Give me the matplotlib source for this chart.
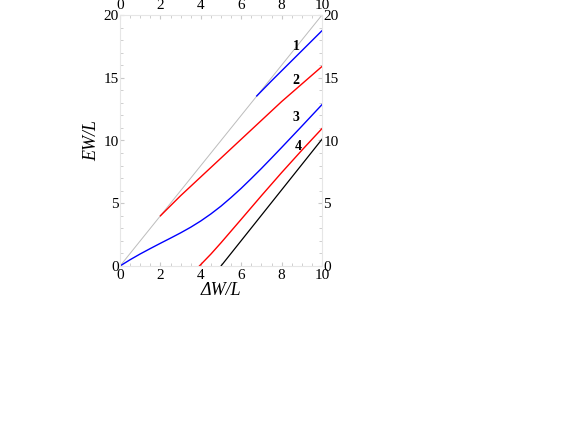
import matplotlib.pyplot as plt
from matplotlib.ticker import MultipleLocator

plt.rcParams['font.family'] = ['Liberation Serif', 'DejaVu Serif']

# curve data
diag_x = [0, 10]
diag_y = [0, 20]

c1_x = [6.77, 7.5, 8, 9, 10]
c1_y = [13.55, 14.75, 15.55, 17.15, 18.75]

c2_x = [2, 2.5, 3, 4, 5, 6, 7, 8, 9, 10]
c2_y = [4.0, 4.8, 5.6, 7.1, 8.6, 10.1, 11.6, 13.1, 14.5, 15.9]

c3_x = [0, 0.5, 1, 1.5, 2, 2.5, 3, 3.5, 4, 4.5, 5, 5.5, 6, 6.5, 7,
        7.5, 8, 8.5, 9, 9.5, 10]
c3_y = [0, 0.5, 0.96, 1.39, 1.81, 2.22, 2.64, 3.09, 3.59, 4.15, 4.77, 5.46,
        6.19, 6.97, 7.77, 8.6, 9.44, 10.29, 11.14, 12.0, 12.86]

c4_x = [3.93, 4.5, 5, 6, 7, 8, 9, 10]
c4_y = [0, 0.95, 1.85, 3.72, 5.6, 7.44, 9.22, 10.95]

lim_x = [5, 10]
lim_y = [0, 10.1]

labels = ["1", "2", "3", "4"]
label_x = [8.71, 8.71, 8.71, 8.8]
label_y = [17.5, 14.8, 11.8, 9.55]

fig = plt.figure(figsize=(5.64, 4.36), dpi=100)
ax = fig.add_axes([120 / 564, 170 / 436, 202 / 564, 251 / 436])

ax.plot(diag_x, diag_y, color='#bcbcbc', lw=0.7)
ax.plot(c1_x, c1_y, color='blue', lw=1.0)
ax.plot(c2_x, c2_y, color='red', lw=1.0)
ax.plot(c3_x, c3_y, color='blue', lw=1.0)
ax.plot(c4_x, c4_y, color='red', lw=1.0)
ax.plot(lim_x, lim_y, color='black', lw=0.9)

for t, x, y in zip(labels, label_x, label_y):
    ax.text(x, y, t, fontsize=10, fontweight='bold', ha='center', va='center')

ax.set_xlim(0, 10)
ax.set_ylim(0, 20)
ax.xaxis.set_major_locator(MultipleLocator(2))
ax.xaxis.set_minor_locator(MultipleLocator(0.5))
ax.yaxis.set_major_locator(MultipleLocator(5))
ax.yaxis.set_minor_locator(MultipleLocator(1))

for s in ax.spines.values():
    s.set_color('#e6e6e6')
    s.set_linewidth(0.8)

ax.tick_params(which='both', direction='in', color='#c8c8c8', labelsize=11,
               top=True, right=True, labeltop=True, labelright=True)
ax.tick_params(which='major', length=3, pad=1)
ax.tick_params(axis='x', which='major', pad=2)
ax.tick_params(which='minor', length=2)

ax.set_xlabel('ΔW/L', fontsize=13, style='italic', labelpad=0)
ax.set_ylabel('EW/L', fontsize=13, style='italic', labelpad=2)

fig.savefig('out.png')
